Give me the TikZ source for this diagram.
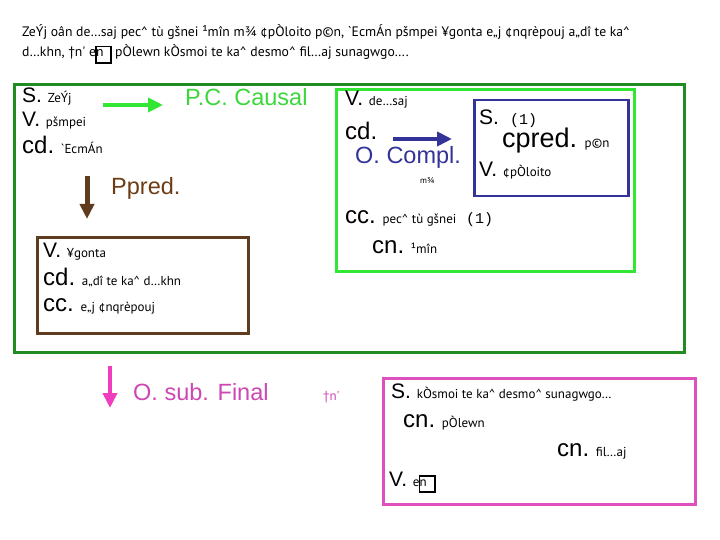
\documentclass[tikz,border=0pt]{standalone}
\usepackage{fontspec}
\setsansfont{Liberation Sans}
\newfontfamily\gkfont[Ligatures=TeXOff]{PT Sans}
\newfontfamily\monofont{Liberation Mono}
\usetikzlibrary{arrows.meta}
\definecolor{dgreen}{RGB}{34,139,34}
\definecolor{bgreen}{RGB}{51,230,51}
\definecolor{tgreen}{RGB}{60,215,60}
\definecolor{dblue}{RGB}{51,51,153}
\definecolor{brn}{RGB}{95,60,30}
\definecolor{brnt}{RGB}{110,60,20}
\definecolor{pnk}{RGB}{221,80,190}
\definecolor{pnkt}{RGB}{205,70,180}
\definecolor{pnka}{RGB}{240,60,190}
\newcommand\ls[1]{{\sffamily\fontsize{21}{21}\selectfont #1\ }}
\newcommand\llab[1]{{\sffamily\fontsize{24}{24}\selectfont #1\ }}
\newcommand\ltit[1]{{\sffamily\fontsize{23.5}{24}\selectfont #1}}
\newcommand\lxl[1]{{\sffamily\fontsize{27}{27}\selectfont #1\ }}
\newcommand\gk[1]{{\gkfont\fontsize{13}{13}\selectfont #1}}
\newcommand\gkh[1]{{\gkfont\fontsize{13.7}{14}\selectfont #1}}
\newcommand\gkt[1]{{\gkfont\fontsize{8.5}{8.5}\selectfont #1}}
\newcommand\mono[1]{{\monofont\fontsize{15}{15}\selectfont #1}}
\newcommand\ca{\textasciicircum}
\newcommand\gbox{\kern-1pt\rlap{\raisebox{-5pt}{\fboxsep=0pt\fboxrule=1.8pt\fbox{\rule{0pt}{14.5pt}\rule{13.5pt}{0pt}}}}\kern1pt n\kern8pt}
\begin{document}
\begin{tikzpicture}[x=1pt,y=-1pt,
  t/.style={inner sep=0pt, anchor=base west},
  frame/.style={draw, inner sep=0pt, anchor=north west},
  arr/.style={-{Triangle[length=15pt,width=14pt]}}]
\useasboundingbox[fill=white] (0,0) rectangle (720,540);
% frames
\node[frame, draw=dgreen, line width=3pt, minimum width=670pt, minimum height=268pt] (outer) at (13,83) {};
\node[frame, draw=bgreen, line width=3pt, minimum width=298pt, minimum height=182pt] (inner) at (335,88) {};
\node[frame, draw=dblue, line width=2.5pt, minimum width=154pt, minimum height=96pt] (bluebox) at (473,99) {};
\node[frame, draw=brn, line width=2.5pt, minimum width=211pt, minimum height=96pt] (brownbox) at (36,236) {};
\node[frame, draw=pnk, line width=3pt, minimum width=312pt, minimum height=126pt] (pinkbox) at (382,377) {};
% header
\node[t] (h1) at (22,37) {\gkh{ZeÝj oân de…saj pec\ca\ tù gšnei ¹mîn m¾ ¢pÒloito p©n, `EcmÁn pšmpei ¥gonta e„j ¢nqrèpouj a„dî te ka\ca}};
\node[t] (h2) at (22,57) {\gkh{d…khn, †n' e\gbox\ pÒlewn kÒsmoi te ka\ca\ desmo\ca\ fil…aj sunagwgo….}};
% outer content
\node[t] (s1) at (22,103) {\ls{S.}\gk{ZeÝj}};
\node[t] (v1) at (22,127) {\ls{V.}\gk{pšmpei}};
\node[t] (cd1) at (22,154) {\llab{cd.}\gk{`EcmÁn}};
\node[t, text=tgreen] (pcc) at (185,106) {\ltit{P.C. Causal}};
\node[t, text=brnt] (pp) at (111,195) {\ltit{Ppred.}};
% inner green content
\node[t] (v2) at (345,106) {\ls{V.}\gk{de…saj}};
\node[t] (cd2) at (345,140) {\llab{cd.}};
\node[t, text=dblue] (oc) at (355,164) {\ltit{O. Compl.}};
\node[t] (m34) at (420,184) {\gkt{m¾}};
\node[t] (s3) at (479,125) {\ls{S.}};
\node[t] (one1) at (510,125) {\mono{(1)}};
\node[t] (cp) at (502,148) {\lxl{cpred.}\gk{p©n}};
\node[t] (v3) at (479,177) {\ls{V.}\gk{¢pÒloito}};
\node[t] (cc2) at (345,224) {\llab{cc.}\gk{pec\ca\ tù gšnei}};
\node[t] (one2) at (466,224) {\mono{(1)}};
\node[t] (cn2) at (372,254) {\llab{cn.}\gk{¹mîn}};
% brown content
\node[t] (v4) at (43,257) {\ls{V.}\gk{¥gonta}};
\node[t] (cd4) at (43,285) {\llab{cd.}\gk{a„dî te ka\ca\ d…khn}};
\node[t] (cc4) at (43,311) {\llab{cc.}\gk{e„j ¢nqrèpouj}};
% pink
\node[t, text=pnkt] (osf) at (133,400) {\ltit{O. sub. Final}};
\node[t, text=pnkt] (tn) at (323,400) {\gk{†n'}};
\node[t] (s5) at (391,398) {\ls{S.}\gk{kÒsmoi te ka\ca\ desmo\ca\ sunagwgo…}};
\node[t] (cn5) at (403,427) {\llab{cn.}\gk{pÒlewn}};
\node[t] (cn6) at (557,456) {\llab{cn.}\gk{fil…aj}};
\node[t] (v5) at (389,486) {\ls{V.}\gk{e\gbox}};
% arrows
\coordinate (ga1) at (103,105); \coordinate (ga2) at (163,105);
\coordinate (ba1) at (87,176); \coordinate (ba2) at (87,219);
\coordinate (la1) at (393,139); \coordinate (la2) at (452,139);
\coordinate (pa1) at (110,366); \coordinate (pa2) at (110,408);
\draw[arr, bgreen, line width=4pt] (ga1) -- (ga2);
\draw[arr, brn, line width=5pt] (ba1) -- (ba2);
\draw[arr, dblue, line width=4.5pt] (la1) -- (la2);
\draw[arr, pnka, line width=4pt] (pa1) -- (pa2);
\end{tikzpicture}
\end{document}
